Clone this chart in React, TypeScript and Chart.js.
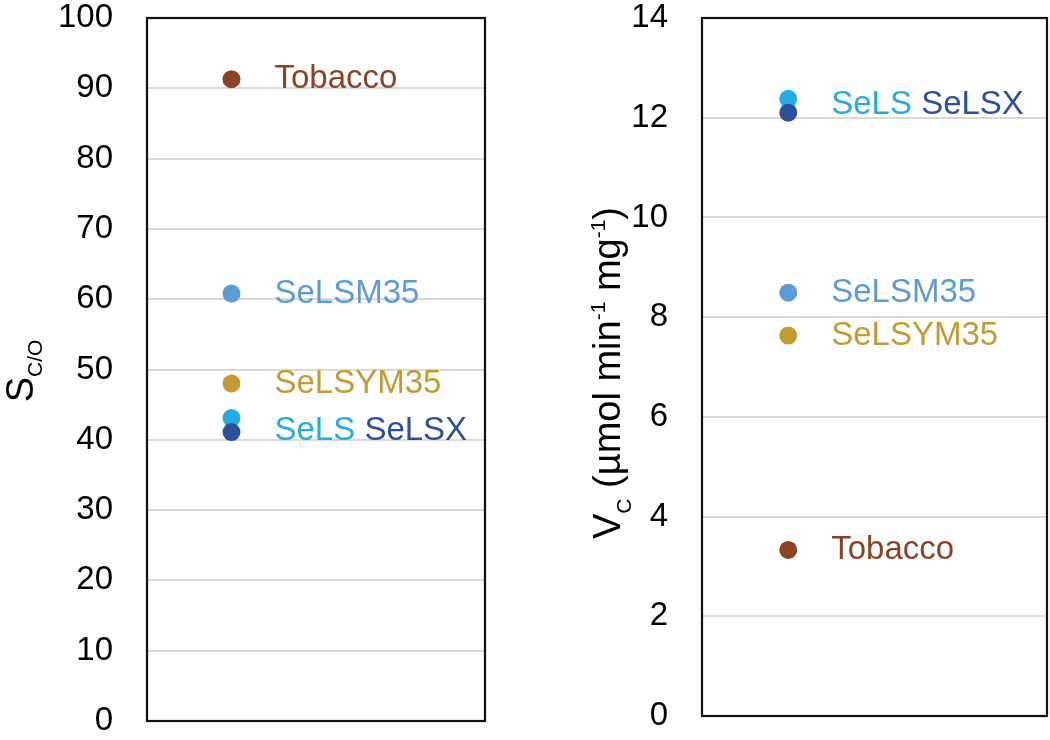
import React, { useEffect, useRef } from "react";
import { Chart, registerables } from "chart.js";

Chart.register(...registerables);

// ---- data ----
const categories = ["Tobacco", "SeLSM35", "SeLSYM35", "SeLS", "SeLSX"];
const colors = ["#8B4322", "#5B9BD6", "#C59A32", "#22ACE4", "#2B509D"];
const specificityValues = [91.3, 60.8, 48.0, 43.1, 41.1];
const vcValues = [3.33, 8.49, 7.63, 12.38, 12.1];
const labelGroups = [[0], [1], [2], [3, 4]];
const specificityLabelAnchors = [91.3, 60.8, 48.0, 41.2];
const vcLabelAnchors = [3.33, 8.49, 7.63, 12.25];
const specificityTicks = { min: 0, max: 100, step: 10 };
const vcTicks = { min: 0, max: 14, step: 2 };

const FONT = "'Liberation Sans', Arial, sans-serif";

type Part = { text: string; size: number; shift: number };

const framePlugin = {
  id: "frame",
  afterDatasetsDraw(chart: any) {
    const { ctx, chartArea } = chart;
    ctx.save();
    ctx.strokeStyle = "#111";
    ctx.lineWidth = 2.2;
    ctx.strokeRect(chartArea.left, chartArea.top, chartArea.right - chartArea.left, chartArea.bottom - chartArea.top);
    ctx.restore();
  },
};

const labelsPlugin = {
  id: "pointLabels",
  afterDatasetsDraw(chart: any, _args: any, opts: any) {
    const { ctx } = chart;
    const xs = chart.scales.x;
    const ys = chart.scales.y;
    ctx.save();
    ctx.font = `33px ${FONT}`;
    ctx.textBaseline = "middle";
    ctx.textAlign = "left";
    const anchors: number[] = opts.anchors;
    labelGroups.forEach((group, gi) => {
      let x = xs.getPixelForValue(1) + 43;
      const y = ys.getPixelForValue(anchors[gi]);
      group.forEach((idx, k) => {
        const txt = categories[idx] + (k < group.length - 1 ? " " : "");
        ctx.fillStyle = colors[idx];
        ctx.fillText(txt, x, y);
        x += ctx.measureText(txt).width;
      });
    });
    ctx.restore();
  },
};

const titlePlugin = {
  id: "richTitle",
  afterDraw(chart: any, _args: any, opts: any) {
    const { ctx } = chart;
    const parts: Part[] = opts.parts;
    ctx.save();
    ctx.fillStyle = "#000";
    ctx.textBaseline = "alphabetic";
    let total = 0;
    for (const p of parts) {
      ctx.font = `${p.size}px ${FONT}`;
      total += ctx.measureText(p.text).width;
    }
    ctx.translate(opts.x, opts.centerY);
    ctx.rotate(-Math.PI / 2);
    let x = -total / 2;
    for (const p of parts) {
      ctx.font = `${p.size}px ${FONT}`;
      ctx.fillText(p.text, x, p.shift);
      x += ctx.measureText(p.text).width;
    }
    ctx.restore();
  },
};

function makeConfig(values: number[], ticks: any, anchors: number[], axisWidth: number, padding: any, title: any) {
  return {
    type: "scatter" as const,
    data: {
      datasets: [
        {
          data: values.map((v) => ({ x: 1, y: v })),
          backgroundColor: colors,
          borderWidth: 0,
          pointRadius: 9,
          pointHoverRadius: 9,
        },
      ],
    },
    options: {
      responsive: false,
      animation: false,
      events: [],
      layout: { padding, autoPadding: false },
      scales: {
        x: { type: "linear", min: 0, max: 4, display: false },
        y: {
          type: "linear",
          min: ticks.min,
          max: ticks.max,
          ticks: {
            stepSize: ticks.step,
            padding: 34,
            color: "#000",
            font: { family: FONT, size: 33, lineHeight: 1 },
          },
          grid: { color: "#D9D9D9", lineWidth: 2, drawTicks: false },
          border: { display: false },
          afterFit: (scale: any) => {
            scale.width = axisWidth;
            scale.paddingTop = 0;
            scale.paddingBottom = 0;
          },
        },
      },
      plugins: {
        legend: { display: false },
        tooltip: { enabled: false },
        pointLabels: { anchors },
        richTitle: title,
      },
    },
    plugins: [framePlugin, labelsPlugin, titlePlugin],
  };
}

function ChartCanvas({ config, width, height, left }: any) {
  const ref = useRef<HTMLCanvasElement>(null);
  useEffect(() => {
    const chart = new Chart(ref.current as HTMLCanvasElement, config as any);
    return () => chart.destroy();
  }, []);
  return (
    <canvas
      ref={ref}
      width={width}
      height={height}
      style={{ position: "absolute", left, top: 0, width, height }}
    />
  );
}

export default function App() {
  const leftConfig = makeConfig(
    specificityValues,
    specificityTicks,
    specificityLabelAnchors,
    147,
    { left: 0, right: 40, top: 18, bottom: 19 },
    {
      x: 33,
      centerY: 371,
      parts: [
        { text: "S", size: 38, shift: 0 },
        { text: "C/O", size: 21, shift: 9 },
      ],
    }
  );
  const rightConfig = makeConfig(
    vcValues,
    vcTicks,
    vcLabelAnchors,
    177,
    { left: 0, right: 3, top: 18, bottom: 24 },
    {
      x: 95,
      centerY: 373,
      parts: [
        { text: "V", size: 38, shift: 0 },
        { text: "C", size: 21, shift: 11 },
        { text: " (µmol min", size: 38, shift: 0 },
        { text: "-1", size: 21, shift: -15 },
        { text: " mg", size: 38, shift: 0 },
        { text: "-1", size: 21, shift: -15 },
        { text: ")", size: 38, shift: 0 },
      ],
    }
  );
  return (
    <div style={{ position: "absolute", left: 0, top: 0, width: 1050, height: 740, background: "#fff" }}>
      <ChartCanvas config={leftConfig} width={525} height={740} left={0} />
      <ChartCanvas config={rightConfig} width={525} height={740} left={525} />
    </div>
  );
}
